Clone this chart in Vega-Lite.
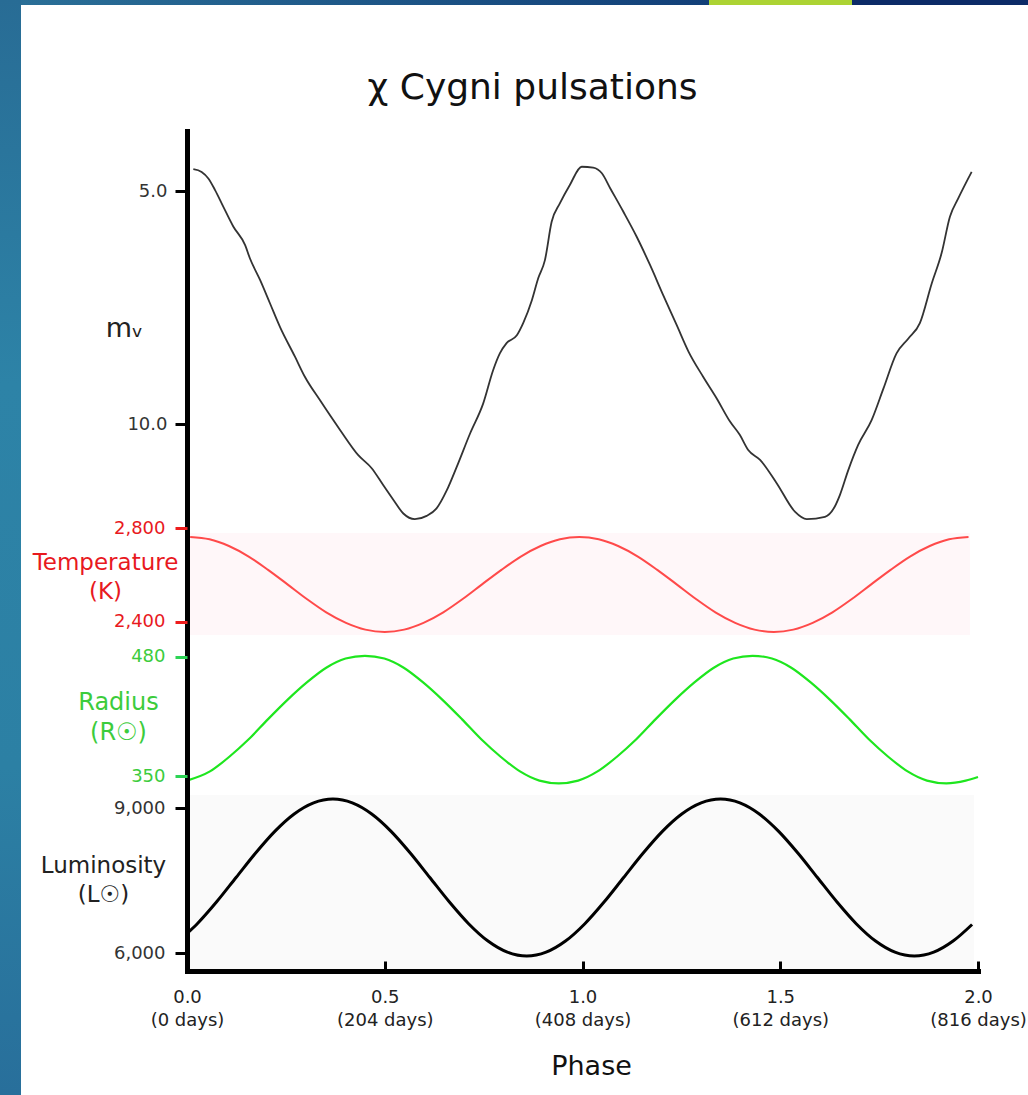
{
  "$schema": "https://vega.github.io/schema/vega-lite/v6.json",
  "padding": 0,
  "background": "white",
  "config": {"view": {"stroke": null}},
  "datasets": {
    "mv": [
      {"phase": 0.016, "mag": 4.53}, {"phase": 0.037, "mag": 4.59}, {"phase": 0.054, "mag": 4.73}, {"phase": 0.071, "mag": 4.98},
      {"phase": 0.092, "mag": 5.34}, {"phase": 0.117, "mag": 5.76}, {"phase": 0.147, "mag": 6.16}, {"phase": 0.159, "mag": 6.44},
      {"phase": 0.185, "mag": 6.91}, {"phase": 0.210, "mag": 7.41}, {"phase": 0.235, "mag": 7.91}, {"phase": 0.273, "mag": 8.55},
      {"phase": 0.298, "mag": 8.98}, {"phase": 0.336, "mag": 9.48}, {"phase": 0.387, "mag": 10.12}, {"phase": 0.433, "mag": 10.66},
      {"phase": 0.467, "mag": 10.94}, {"phase": 0.496, "mag": 11.30}, {"phase": 0.522, "mag": 11.62}, {"phase": 0.547, "mag": 11.91},
      {"phase": 0.576, "mag": 12.03}, {"phase": 0.606, "mag": 11.96}, {"phase": 0.631, "mag": 11.80}, {"phase": 0.657, "mag": 11.41},
      {"phase": 0.682, "mag": 10.91}, {"phase": 0.716, "mag": 10.19}, {"phase": 0.749, "mag": 9.55}, {"phase": 0.774, "mag": 8.84},
      {"phase": 0.791, "mag": 8.48}, {"phase": 0.808, "mag": 8.26}, {"phase": 0.834, "mag": 8.09}, {"phase": 0.850, "mag": 7.83},
      {"phase": 0.872, "mag": 7.34}, {"phase": 0.888, "mag": 6.87}, {"phase": 0.905, "mag": 6.48}, {"phase": 0.922, "mag": 5.66},
      {"phase": 0.943, "mag": 5.26}, {"phase": 0.968, "mag": 4.87}, {"phase": 0.998, "mag": 4.48}, {"phase": 1.027, "mag": 4.50},
      {"phase": 1.049, "mag": 4.62}, {"phase": 1.070, "mag": 4.94}, {"phase": 1.103, "mag": 5.44}, {"phase": 1.137, "mag": 5.98},
      {"phase": 1.171, "mag": 6.59}, {"phase": 1.204, "mag": 7.23}, {"phase": 1.238, "mag": 7.87}, {"phase": 1.268, "mag": 8.44},
      {"phase": 1.305, "mag": 8.98}, {"phase": 1.339, "mag": 9.44}, {"phase": 1.373, "mag": 9.94}, {"phase": 1.398, "mag": 10.23},
      {"phase": 1.419, "mag": 10.55}, {"phase": 1.449, "mag": 10.76}, {"phase": 1.491, "mag": 11.26}, {"phase": 1.537, "mag": 11.87},
      {"phase": 1.567, "mag": 12.03}, {"phase": 1.613, "mag": 11.98}, {"phase": 1.638, "mag": 11.76}, {"phase": 1.651, "mag": 11.51},
      {"phase": 1.672, "mag": 10.98}, {"phase": 1.697, "mag": 10.44}, {"phase": 1.731, "mag": 9.91}, {"phase": 1.761, "mag": 9.23},
      {"phase": 1.794, "mag": 8.48}, {"phase": 1.824, "mag": 8.16}, {"phase": 1.853, "mag": 7.83}, {"phase": 1.883, "mag": 6.98},
      {"phase": 1.908, "mag": 6.33}, {"phase": 1.929, "mag": 5.55}, {"phase": 1.950, "mag": 5.16}, {"phase": 1.984, "mag": 4.59}
    ],
    "temp": [
      {"phase": 0.008, "temp": 2763}, {"phase": 0.057, "temp": 2753}, {"phase": 0.106, "temp": 2724}, {"phase": 0.156, "temp": 2679},
      {"phase": 0.205, "temp": 2622}, {"phase": 0.254, "temp": 2560}, {"phase": 0.303, "temp": 2497}, {"phase": 0.352, "temp": 2440},
      {"phase": 0.402, "temp": 2395}, {"phase": 0.451, "temp": 2366}, {"phase": 0.500, "temp": 2356}, {"phase": 0.549, "temp": 2366},
      {"phase": 0.598, "temp": 2395}, {"phase": 0.648, "temp": 2440}, {"phase": 0.697, "temp": 2497}, {"phase": 0.746, "temp": 2560},
      {"phase": 0.795, "temp": 2622}, {"phase": 0.844, "temp": 2679}, {"phase": 0.894, "temp": 2724}, {"phase": 0.943, "temp": 2753},
      {"phase": 0.992, "temp": 2763}, {"phase": 1.041, "temp": 2753}, {"phase": 1.090, "temp": 2724}, {"phase": 1.140, "temp": 2679},
      {"phase": 1.189, "temp": 2622}, {"phase": 1.238, "temp": 2560}, {"phase": 1.287, "temp": 2497}, {"phase": 1.336, "temp": 2440},
      {"phase": 1.386, "temp": 2395}, {"phase": 1.435, "temp": 2366}, {"phase": 1.484, "temp": 2356}, {"phase": 1.533, "temp": 2366},
      {"phase": 1.582, "temp": 2395}, {"phase": 1.632, "temp": 2440}, {"phase": 1.681, "temp": 2497}, {"phase": 1.730, "temp": 2560},
      {"phase": 1.779, "temp": 2622}, {"phase": 1.828, "temp": 2679}, {"phase": 1.878, "temp": 2724}, {"phase": 1.927, "temp": 2753},
      {"phase": 1.976, "temp": 2763}
    ],
    "radius": [
      {"phase": 0.000, "radius": 345}, {"phase": 0.058, "radius": 355}, {"phase": 0.107, "radius": 371}, {"phase": 0.156, "radius": 390},
      {"phase": 0.205, "radius": 412}, {"phase": 0.254, "radius": 433}, {"phase": 0.303, "radius": 452}, {"phase": 0.352, "radius": 468},
      {"phase": 0.401, "radius": 478}, {"phase": 0.450, "radius": 481}, {"phase": 0.499, "radius": 478}, {"phase": 0.548, "radius": 468},
      {"phase": 0.597, "radius": 452}, {"phase": 0.646, "radius": 433}, {"phase": 0.695, "radius": 412}, {"phase": 0.744, "radius": 390},
      {"phase": 0.793, "radius": 371}, {"phase": 0.842, "radius": 355}, {"phase": 0.891, "radius": 345}, {"phase": 0.940, "radius": 342},
      {"phase": 0.989, "radius": 345}, {"phase": 1.038, "radius": 355}, {"phase": 1.087, "radius": 371}, {"phase": 1.136, "radius": 390},
      {"phase": 1.185, "radius": 412}, {"phase": 1.234, "radius": 433}, {"phase": 1.283, "radius": 452}, {"phase": 1.332, "radius": 468},
      {"phase": 1.381, "radius": 478}, {"phase": 1.430, "radius": 481}, {"phase": 1.479, "radius": 478}, {"phase": 1.528, "radius": 468},
      {"phase": 1.577, "radius": 452}, {"phase": 1.626, "radius": 433}, {"phase": 1.675, "radius": 412}, {"phase": 1.724, "radius": 390},
      {"phase": 1.773, "radius": 371}, {"phase": 1.822, "radius": 355}, {"phase": 1.871, "radius": 345}, {"phase": 1.920, "radius": 342},
      {"phase": 1.969, "radius": 345}, {"phase": 2.000, "radius": 349}
    ],
    "lum": [
      {"phase": 0.000, "lum": 6404}, {"phase": 0.026, "lum": 6607}, {"phase": 0.075, "lum": 7060}, {"phase": 0.124, "lum": 7562},
      {"phase": 0.173, "lum": 8064}, {"phase": 0.222, "lum": 8517}, {"phase": 0.271, "lum": 8876}, {"phase": 0.320, "lum": 9106},
      {"phase": 0.369, "lum": 9186}, {"phase": 0.418, "lum": 9106}, {"phase": 0.467, "lum": 8876}, {"phase": 0.516, "lum": 8517},
      {"phase": 0.565, "lum": 8064}, {"phase": 0.614, "lum": 7562}, {"phase": 0.663, "lum": 7060}, {"phase": 0.712, "lum": 6607},
      {"phase": 0.761, "lum": 6248}, {"phase": 0.810, "lum": 6018}, {"phase": 0.859, "lum": 5938}, {"phase": 0.908, "lum": 6018},
      {"phase": 0.957, "lum": 6248}, {"phase": 1.006, "lum": 6607}, {"phase": 1.055, "lum": 7060}, {"phase": 1.104, "lum": 7562},
      {"phase": 1.153, "lum": 8064}, {"phase": 1.202, "lum": 8517}, {"phase": 1.251, "lum": 8876}, {"phase": 1.300, "lum": 9106},
      {"phase": 1.349, "lum": 9186}, {"phase": 1.398, "lum": 9106}, {"phase": 1.447, "lum": 8876}, {"phase": 1.496, "lum": 8517},
      {"phase": 1.545, "lum": 8064}, {"phase": 1.594, "lum": 7562}, {"phase": 1.643, "lum": 7060}, {"phase": 1.692, "lum": 6607},
      {"phase": 1.741, "lum": 6248}, {"phase": 1.790, "lum": 6018}, {"phase": 1.839, "lum": 5938}, {"phase": 1.888, "lum": 6018},
      {"phase": 1.937, "lum": 6248}, {"phase": 1.985, "lum": 6590}
    ]
  },
  "bounds": "flush",
  "spacing": 0,
  "hconcat": [
    {
      "width": 21, "height": 1095,
      "data": {"values": []},
      "mark": "rect",
      "view": {"stroke": null, "fill": {"gradient": "linear", "x1": 0, "y1": 0, "x2": 0, "y2": 1,
        "stops": [{"offset": 0, "color": "#286c95"}, {"offset": 0.35, "color": "#2d83a7"}, {"offset": 0.7, "color": "#2c80a4"}, {"offset": 1, "color": "#286f9b"}]}}
    },
    {
      "bounds": "flush",
      "spacing": 131,
      "vconcat": [
        {
          "bounds": "flush",
          "spacing": 0,
          "hconcat": [
            {"width": 688, "height": 5, "data": {"values": []}, "mark": "rect",
             "view": {"stroke": null, "fill": {"gradient": "linear", "x1": 0, "y1": 0, "x2": 1, "y2": 0,
               "stops": [{"offset": 0, "color": "#2a6f97"}, {"offset": 1, "color": "#123f78"}]}}},
            {"width": 143, "height": 5, "data": {"values": []}, "mark": "rect",
             "view": {"stroke": null, "fill": "#acd333"}},
            {"width": 176, "height": 5, "data": {"values": []}, "mark": "rect",
             "view": {"stroke": null, "fill": "#0c2b67"}}
          ]
        },
        {
          "bounds": "flush",
          "spacing": 165,
          "hconcat": [
            {"width": 1, "height": 1, "data": {"values": []}, "mark": "rect", "view": {"stroke": null}},
            {
              "width": 791,
              "height": 840,
              "title": {"text": "χ Cygni pulsations", "font": "DejaVu Sans", "fontSize": 36, "fontWeight": "normal", "color": "#111111", "anchor": "middle", "frame": "group", "dx": -50, "offset": 24},
              "resolve": {"scale": {"y": "independent"}, "axis": {"y": "independent"}},
              "layer": [
                {
                  "data": {"name": "mv"},
                  "mark": {"type": "line", "color": "#333333", "strokeWidth": 1.8, "interpolate": "monotone"},
                  "encoding": {
                    "x": {"field": "phase", "type": "quantitative",
                      "scale": {"domain": [0, 2], "nice": false, "zero": false},
                      "axis": {"values": [0, 0.5, 1, 1.5, 2], "zindex": 1,
                        "labelExpr": "[format(datum.value, '.1f'), '(' + format(datum.value * 408, 'd') + ' days)']",
                        "labelFont": "DejaVu Sans", "labelFontSize": 18, "labelColor": "#222222", "labelLineHeight": 23,
                        "labelBaseline": "top", "labelPadding": 27, "labelFlush": false, "labelOverlap": false,
                        "tickSize": -10, "tickWidth": 3, "tickColor": "#000000",
                        "domainColor": "#000000", "domainWidth": 5, "domainCap": "square", "grid": false,
                        "title": "Phase", "titleFont": "DejaVu Sans", "titleFontSize": 27, "titleFontWeight": "normal", "titleColor": "#111111",
                        "titleX": 404, "titleY": 103, "titleBaseline": "alphabetic", "titleAlign": "center"}},
                    "y": {"field": "mag", "type": "quantitative",
                      "scale": {"domain": [3.714, 21.713], "reverse": true, "nice": false, "zero": false},
                      "axis": {"orient": "left", "values": [5, 10], "format": ".1f", "zindex": 1,
                        "domain": true, "domainColor": "#000000", "domainWidth": 5, "domainCap": "square",
                        "tickColor": "#000000", "tickSize": 12, "tickWidth": 3,
                        "labelFont": "DejaVu Sans", "labelFontSize": 18, "labelColor": "#333333", "labelPadding": 8, "labelOverlap": false,
                        "grid": false,
                        "title": "mᵥ", "titleFont": "DejaVu Sans", "titleFontSize": 27, "titleFontWeight": "normal", "titleColor": "#222222",
                        "titleAngle": 0, "titleAlign": "center", "titleBaseline": "middle", "titleX": -63, "titleY": 197}}
                  }
                },
                {
                  "layer": [
                    {
                      "data": {"values": [{}]},
                      "mark": {"type": "rect", "fill": "#fff7f9"},
                      "encoding": {
                        "x": {"datum": 0, "type": "quantitative"},
                        "x2": {"datum": 1.98},
                        "y": {"datum": 2780, "type": "quantitative"},
                        "y2": {"datum": 2343}
                      }
                    },
                    {
                      "data": {"name": "temp"},
                      "mark": {"type": "line", "color": "#ff4a4a", "strokeWidth": 2, "interpolate": "monotone"},
                      "encoding": {
                        "x": {"field": "phase", "type": "quantitative"},
                        "y": {"field": "temp", "type": "quantitative",
                          "scale": {"domain": [904, 4501.5], "nice": false, "zero": false},
                          "axis": {"orient": "left", "values": [2400, 2800], "labelExpr": "format(datum.value, ',')", "zindex": 1,
                            "domain": false, "tickColor": "#ee1c1c", "tickSize": 12, "tickWidth": 3,
                            "labelFont": "DejaVu Sans", "labelFontSize": 18, "labelColor": "#e8191e", "labelPadding": 10, "labelOverlap": false,
                            "grid": false,
                            "title": ["Temperature", "(K)"], "titleFont": "DejaVu Sans", "titleFontSize": 23, "titleFontWeight": "normal", "titleColor": "#e8191e",
                            "titleLineHeight": 29, "titleAngle": 0, "titleAlign": "center", "titleBaseline": "middle", "titleX": -82, "titleY": 431}}
                      }
                    }
                  ]
                },
                {
                  "data": {"name": "radius"},
                  "mark": {"type": "line", "color": "#1ee61e", "strokeWidth": 2.2, "interpolate": "monotone"},
                  "encoding": {
                    "x": {"field": "phase", "type": "quantitative"},
                    "y": {"field": "radius", "type": "quantitative",
                      "scale": {"domain": [137.5, 1052.9], "nice": false, "zero": false},
                      "axis": {"orient": "left", "values": [350, 480], "zindex": 1,
                        "domain": false, "tickColor": "#2dd455", "tickSize": 12, "tickWidth": 3,
                        "labelFont": "DejaVu Sans", "labelFontSize": 18, "labelColor": "#3ccc3c", "labelPadding": 10, "labelOverlap": false,
                        "grid": false,
                        "title": ["Radius", "(R☉)"], "titleFont": "DejaVu Sans", "titleFontSize": 24, "titleFontWeight": "normal", "titleColor": "#3ccc3c",
                        "titleLineHeight": 30, "titleAngle": 0, "titleAlign": "center", "titleBaseline": "middle", "titleX": -69, "titleY": 571}}
                  }
                },
                {
                  "layer": [
                    {
                      "data": {"values": [{}]},
                      "mark": {"type": "rect", "fill": "#fafafa"},
                      "encoding": {
                        "x": {"datum": 0, "type": "quantitative"},
                        "x2": {"datum": 1.99},
                        "y": {"datum": 9269, "type": "quantitative"},
                        "y2": {"datum": 5628}
                      }
                    },
                    {
                      "data": {"name": "lum"},
                      "mark": {"type": "line", "color": "#000000", "strokeWidth": 3, "interpolate": "monotone"},
                      "encoding": {
                        "x": {"field": "phase", "type": "quantitative"},
                        "y": {"field": "lum", "type": "quantitative",
                          "scale": {"domain": [5628, 23007], "nice": false, "zero": false},
                          "axis": {"orient": "left", "values": [6000, 9000], "labelExpr": "format(datum.value, ',')", "zindex": 1,
                            "domain": false, "tickColor": "#000000", "tickSize": 12, "tickWidth": 3,
                            "labelFont": "DejaVu Sans", "labelFontSize": 18, "labelColor": "#333333", "labelPadding": 10, "labelOverlap": false,
                            "grid": false,
                            "title": ["Luminosity", "(L☉)"], "titleFont": "DejaVu Sans", "titleFontSize": 23, "titleFontWeight": "normal", "titleColor": "#222222",
                            "titleLineHeight": 29, "titleAngle": 0, "titleAlign": "center", "titleBaseline": "middle", "titleX": -84, "titleY": 734}}
                      }
                    }
                  ]
                }
              ]
            }
          ]
        }
      ]
    }
  ]
}
